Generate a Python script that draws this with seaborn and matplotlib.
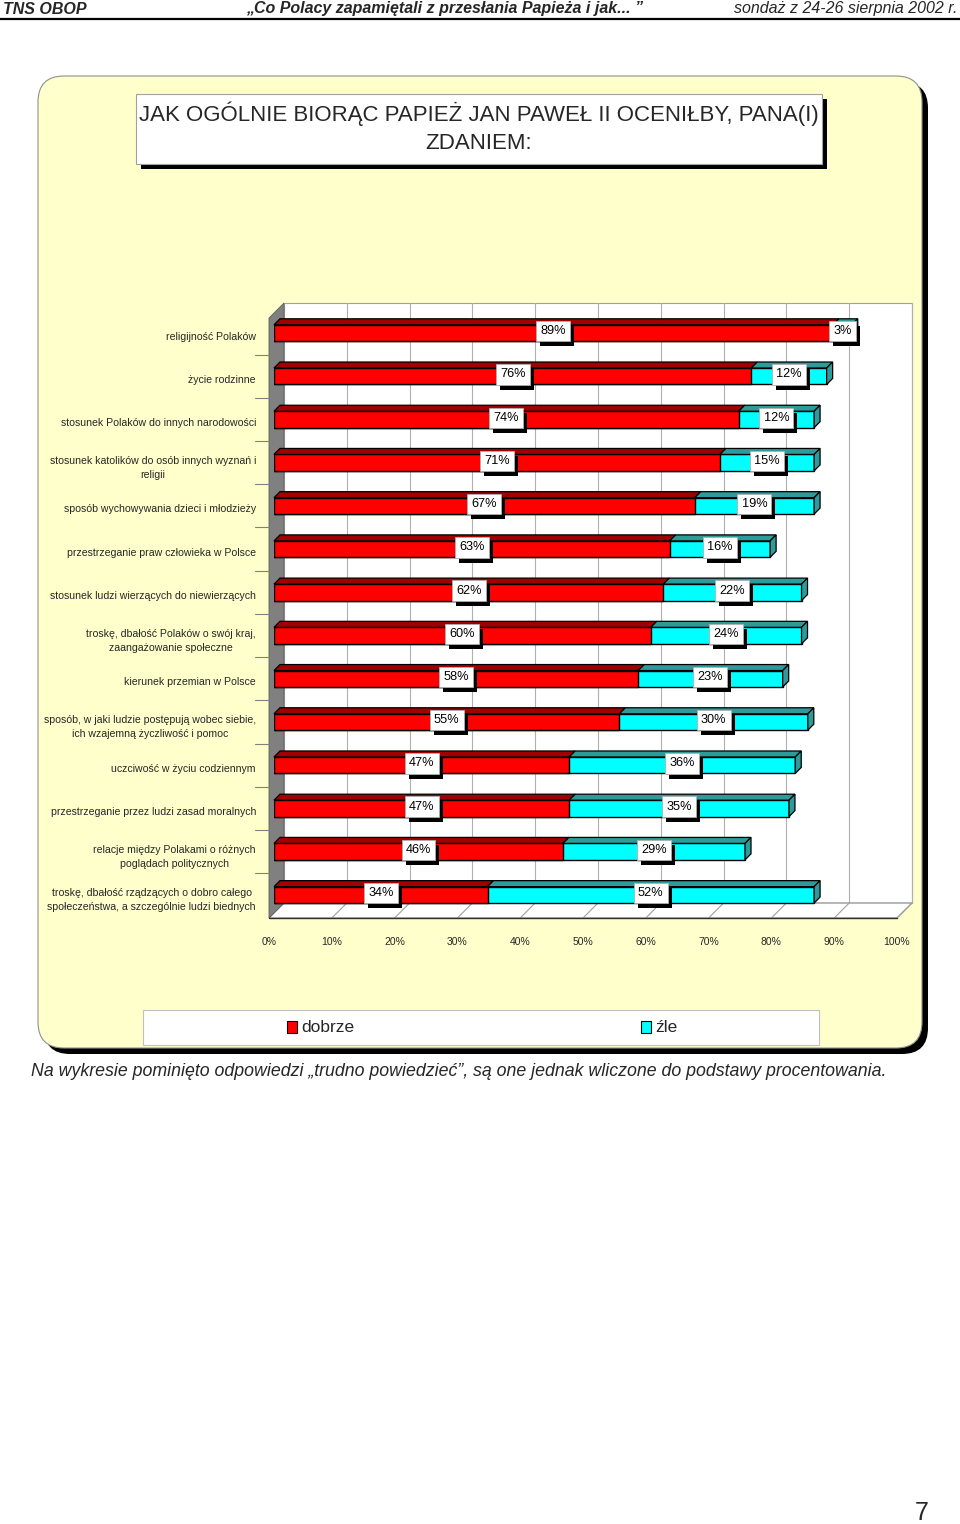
import numpy as np
import pandas as pd
import matplotlib
matplotlib.use('Agg')
import matplotlib.pyplot as plt
import seaborn as sns
from matplotlib.patches import Polygon, Rectangle, FancyBboxPatch
from matplotlib.lines import Line2D
from matplotlib.transforms import IdentityTransform, ScaledTranslation

# --- data ---
categories = [
    'religijność Polaków',
    'życie rodzinne',
    'stosunek Polaków do innych narodowości',
    'stosunek katolików do osób innych wyznań i\nreligii',
    'sposób wychowywania dzieci i młodzieży',
    'przestrzeganie praw człowieka w Polsce',
    'stosunek ludzi wierzących do niewierzących',
    'troskę, dbałość Polaków o swój kraj,\nzaangażowanie społeczne',
    'kierunek przemian w Polsce',
    'sposób, w jaki ludzie postępują wobec siebie,\nich wzajemną życzliwość i pomoc',
    'uczciwość w życiu codziennym',
    'przestrzeganie przez ludzi zasad moralnych',
    'relacje między Polakami o różnych\npoglądach politycznych',
    'troskę, dbałość rządzących o dobro całego\nspołeczeństwa, a szczególnie ludzi biednych',
]
dobrze = [89, 76, 74, 71, 67, 63, 62, 60, 58, 55, 47, 47, 46, 34]
zle = [3, 12, 12, 15, 19, 16, 22, 24, 23, 30, 36, 35, 29, 52]
series_names = ['dobrze', 'źle']
series_colors = ['#FF0000', '#00FFFF']
shade_colors = ['#A00000', '#2E9A9A']
x_ticks = list(range(0, 101, 10))
x_ticklabels = [f'{t}%' for t in x_ticks]

title = 'JAK OGÓLNIE BIORĄC PAPIEŻ JAN PAWEŁ II OCENIŁBY, PANA(I)\nZDANIEM:'
header_left = 'TNS OBOP'
header_mid = '„Co Polacy zapamiętali z przesłania Papieża i jak... ”'
header_right = 'sondaż z 24-26 sierpnia 2002 r.'
footnote = ('Na wykresie pominięto odpowiedzi „trudno powiedzieć”, '
            'są one jednak wliczone do podstawy procentowania.')

df = pd.DataFrame({'kategoria': categories, 'dobrze': dobrze, 'zle': zle})
df['razem'] = df['dobrze'] + df['zle']

# --- figure setup ---
W, H = 960, 1524
sns.set_theme(style='white')
plt.rcParams['font.family'] = ['Liberation Sans', 'DejaVu Sans']
NARROW = ['Liberation Sans Narrow', 'Liberation Sans', 'DejaVu Sans']

fig = plt.figure(figsize=(W / 100, H / 100), dpi=100)
fig.patch.set_facecolor('white')
ID = IdentityTransform()


def box_px(x0, y0, x1, y1, rounded=0, **kw):
    # pixel box, top-left origin
    if rounded:
        return FancyBboxPatch((x0, H - y1), x1 - x0, y1 - y0,
                              boxstyle=f'round,pad=0,rounding_size={rounded}',
                              transform=ID, **kw)
    return Rectangle((x0, H - y1), x1 - x0, y1 - y0, transform=ID, **kw)


def ftext(x, y, s, **kw):
    return fig.text(x / W, 1 - y / H, s, **kw)


# header
ftext(3, 9, header_left, family=NARROW, weight='bold', style='italic',
      fontsize=11.5, va='center', ha='left')
ftext(445, 9, header_mid, family=NARROW, weight='bold', style='italic',
      fontsize=11.5, va='center', ha='center')
ftext(957, 9, header_right, family=NARROW, style='italic',
      fontsize=11.5, va='center', ha='right')
fig.add_artist(Line2D([0, W], [H - 18.5, H - 18.5], transform=ID,
                      color='black', lw=1.6))

# yellow panel with shadow
fig.add_artist(box_px(44, 82, 928, 1054, rounded=26, fc='black', ec='none',
                      zorder=-10))
fig.add_artist(box_px(38, 76, 922, 1048, rounded=26, fc='#FFFFCC',
                      ec='#909090', lw=0.8, zorder=-9))

# title box
fig.add_artist(box_px(141, 99, 827, 169, fc='black', ec='none', zorder=-8))
fig.add_artist(box_px(136, 94, 822, 164, fc='white', ec='#A0A0A0', lw=0.8,
                      zorder=-7))
ftext(479, 128, title, family=NARROW, fontsize=16, ha='center', va='center',
      linespacing=1.45, zorder=-6)

# --- main axes (bar plane) ---
ax = fig.add_axes([274 / W, 1 - 913 / H, 628 / W, 600 / H])
ax.set_facecolor('none')

sns.barplot(data=df, x='razem', y='kategoria', color=series_colors[1],
            saturation=1, width=0.38, edgecolor='black', linewidth=1.0,
            errorbar=None, ax=ax, zorder=3)
sns.barplot(data=df, x='dobrze', y='kategoria', color=series_colors[0],
            saturation=1, width=0.38, edgecolor='black', linewidth=1.0,
            errorbar=None, ax=ax, zorder=3)

ax.set_xlim(0, 100)
ax.set_ylim(13.42, -0.463)
ax.set_xlabel('')
ax.set_ylabel('')
sns.despine(ax=ax, left=True, bottom=True)
ax.grid(False)

back = (10, 10)    # depth offset of back wall (display px, up positive)
front = (-5, -5)   # front edge of floor / side wall

# back wall, floor, side wall
(ax0, ay0), (ax1, ay1) = ax.transAxes.transform([(0, 0), (1, 1)])
wall = Polygon([(ax0 + back[0], ay0 + back[1]), (ax1 + back[0], ay0 + back[1]),
                (ax1 + back[0], ay1 + back[1]), (ax0 + back[0], ay1 + back[1])],
               closed=True, transform=ID, fc='white', ec='#A0A0A0', lw=0.8,
               zorder=0.5, clip_on=False)
ax.add_patch(wall)
floor = Polygon([(ax0 + front[0], ay0 + front[1]), (ax1 + front[0], ay0 + front[1]),
                 (ax1 + back[0], ay0 + back[1]), (ax0 + back[0], ay0 + back[1])],
                closed=True, transform=ID, fc='white', ec='#808080', lw=0.8,
                zorder=0.6, clip_on=False)
ax.add_patch(floor)
side = Polygon([(ax0 + front[0], ay0 + front[1]), (ax0 + back[0], ay0 + back[1]),
                (ax0 + back[0], ay1 + back[1]), (ax0 + front[0], ay1 + front[1])],
               closed=True, transform=ID, fc='#808080', ec='#606060', lw=0.6,
               zorder=0.7, clip_on=False)
ax.add_patch(side)
ax.add_line(Line2D([ax0 + front[0], ax1 + front[0]],
                   [ay0 + front[1], ay0 + front[1]], transform=ID,
                   color='#303030', lw=1.0, zorder=0.8, clip_on=False))

for t in x_ticks[1:]:
    xd = ax.transData.transform((t, 0))[0]
    ax.add_line(Line2D([xd + back[0], xd + back[0]],
                       [ay0 + back[1], ay1 + back[1]], transform=ID,
                       color='#B0B0B0', lw=0.8, zorder=0.55, clip_on=False))
    ax.add_line(Line2D([xd + front[0], xd + back[0]],
                       [ay0 + front[1], ay0 + back[1]], transform=ID,
                       color='#A0A0A0', lw=0.8, zorder=0.65, clip_on=False))

# category separator ticks on the left
for b in np.arange(0.5, len(categories) - 0.5, 1.0):
    yd = ax.transData.transform((0, b))[1]
    ax.add_line(Line2D([ax0 + front[0] - 14, ax0 + front[0]], [yd, yd],
                       transform=ID, color='#808080', lw=0.8, clip_on=False))

# 3D faces of bars
d = 6
red_bars = ax.containers[1]
cyan_bars = ax.containers[0]
for i, (rb, cb) in enumerate(zip(red_bars, cyan_bars)):
    x_left = ax.transData.transform((rb.get_x(), 0))[0]
    x_mid = ax.transData.transform((rb.get_x() + rb.get_width(), 0))[0]
    x_end = ax.transData.transform((cb.get_x() + cb.get_width(), 0))[0]
    yb = ax.transData.transform((0, rb.get_y()))[1]
    yt = ax.transData.transform((0, rb.get_y() + rb.get_height()))[1]
    y_lo, y_hi = min(yb, yt), max(yb, yt)
    for (xa, xb), col in [((x_left, x_mid), shade_colors[0]),
                          ((x_mid, x_end), shade_colors[1])]:
        ax.add_patch(Polygon([(xa, y_hi), (xb, y_hi), (xb + d, y_hi + d),
                              (xa + d, y_hi + d)], closed=True, transform=ID,
                             fc=col, ec='black', lw=0.9, zorder=3.2,
                             clip_on=False))
    ax.add_patch(Polygon([(x_end, y_lo), (x_end, y_hi), (x_end + d, y_hi + d),
                          (x_end + d, y_lo + d)], closed=True, transform=ID,
                         fc=shade_colors[1], ec='black', lw=0.9, zorder=3.2,
                         clip_on=False))

# value labels (shadows added after a first draw)
lab_kw = dict(ha='center', va='center', fontsize=9.2)
value_texts = []
for i, (rb, cb) in enumerate(zip(red_bars, cyan_bars)):
    yc = rb.get_y() + rb.get_height() / 2 - 0.04
    x_mid = rb.get_x() + rb.get_width()
    x_end = cb.get_x() + cb.get_width()
    for xc, v in [(x_mid / 2, dobrze[i]), ((x_mid + x_end) / 2, zle[i])]:
        t = ax.text(xc, yc, f'{v}%', color='black', zorder=5,
                    bbox=dict(boxstyle='square,pad=0.33', fc='white',
                              ec='#B0B0B0', lw=0.6), **lab_kw)
        value_texts.append(t)

# axis ticks
ax.set_xticks(x_ticks)
ax.set_xticklabels(x_ticklabels, fontsize=7.5)
ax.tick_params(axis='x', length=0, pad=17)
for lab in ax.get_xticklabels():
    lab.set_transform(lab.get_transform() +
                      ScaledTranslation(-5 / 100, 0, fig.dpi_scale_trans))
ax.set_yticks(range(len(categories)))
ax.set_yticklabels(categories, fontsize=7.6)
ax.tick_params(axis='y', length=0, pad=13)
for lab in ax.get_yticklabels():
    lab.set_multialignment('center')
    lab.set_linespacing(1.5)
    lab.set_transform(lab.get_transform() +
                      ScaledTranslation(0, -2.5 / 100, fig.dpi_scale_trans))

# legend
fig.add_artist(box_px(143, 1010, 819, 1045, fc='white', ec='#C0C0C0', lw=0.8,
                      zorder=-6))
for (lx, name), col in zip([(287, series_names[0]), (641, series_names[1])],
                           series_colors):
    fig.add_artist(box_px(lx, 1021, lx + 10, 1033, fc=col, ec='black', lw=0.8))
    ftext(lx + 14, 1027.5, name, fontsize=12.5, family=NARROW, va='center',
          ha='left')

# footnote and page number
ftext(31, 1072, footnote, family=NARROW, style='italic', fontsize=12.8,
      va='center', ha='left')
ftext(922, 1513, '7', fontsize=18, va='center', ha='center')

# drop shadows behind the value label boxes
fig.canvas.draw()
for t in value_texts:
    bb = t.get_bbox_patch().get_window_extent()
    ax.add_patch(Rectangle((bb.x0 + 4, bb.y0 - 5), bb.width, bb.height,
                           transform=ID, fc='black', ec='none', zorder=4,
                           clip_on=False))

fig.savefig('out.png', dpi=100, facecolor='white')
